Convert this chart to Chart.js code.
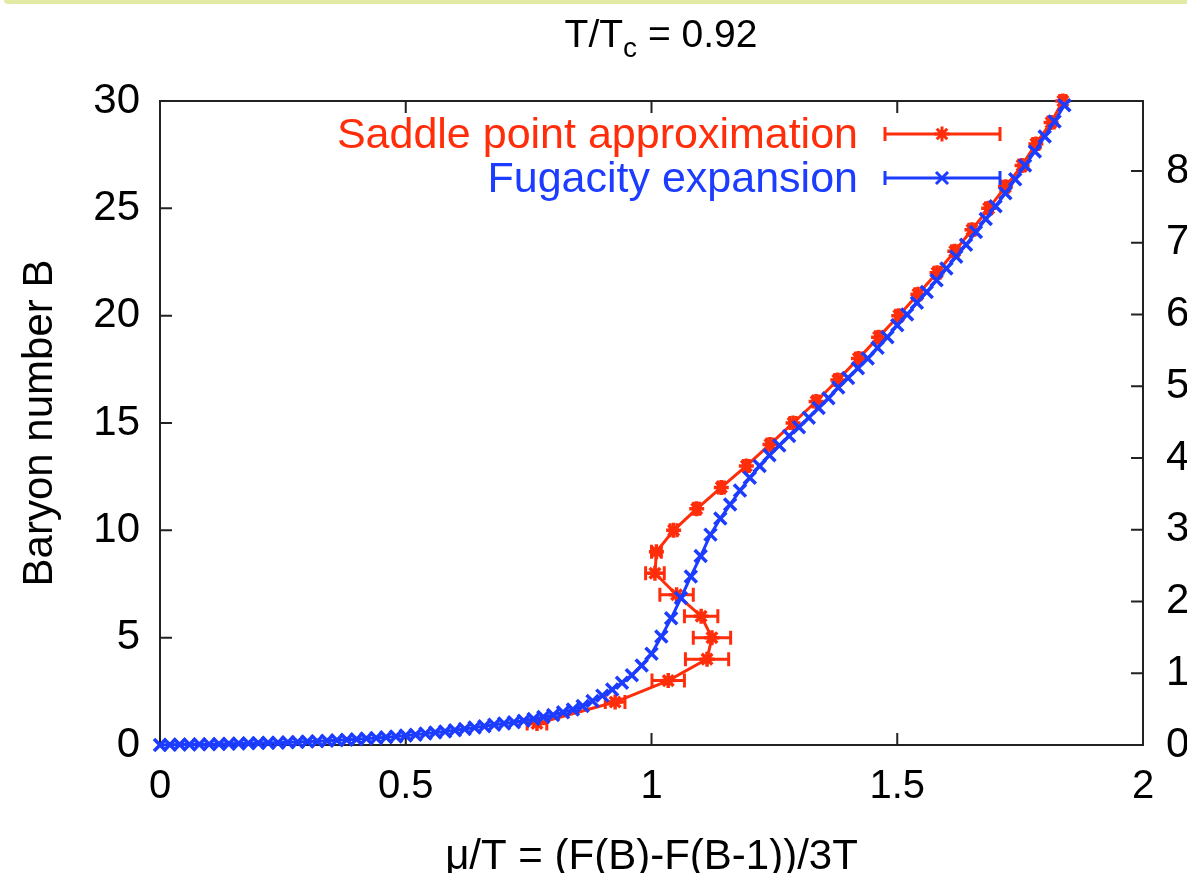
<!DOCTYPE html>
<html>
<head>
<meta charset="utf-8">
<script src="https://cdn.jsdelivr.net/npm/chart.js@4.4.0/dist/chart.umd.min.js"></script>
<style>
  html, body { margin: 0; padding: 0; background: #fff; overflow: hidden; }
  #wrap { position: relative; width: 1187px; height: 873px; overflow: hidden; }
  #topbar { position: absolute; top: 0; left: 4px; right: 0; height: 4px; background: #e3eaa4; border-bottom-left-radius: 6px; }
  #title { position: absolute; top: 11px; left: 461px; width: 400px; text-align: center;
           font: 39px "Liberation Sans", Arial, sans-serif; color: #000; line-height: 46px; }
  #title sub { font-size: 28px; vertical-align: -10px; line-height: 0; }
  #chart { position: absolute; top: 0; left: 0; }
</style>
</head>
<body>
<div id="wrap">
  <div id="topbar"></div>
  <canvas id="chart" width="1230" height="890"></canvas>
  <div id="title">T/T<sub>c</sub> = 0.92</div>
</div>
<script>
// saddle point approximation: baryon number B and mu/T with x error
const bSaddle = [1, 2, 3, 4, 5, 6, 7, 8, 9, 10,
                 11, 12, 13, 14, 15, 16, 17, 18, 19, 20,
                 21, 22, 23, 24, 25, 26, 27, 28, 29, 30];
const muSaddle = [0.767, 0.926, 1.034, 1.113, 1.123, 1.101, 1.051, 1.007, 1.010, 1.045,
                  1.092, 1.142, 1.193, 1.241, 1.288, 1.335, 1.379, 1.421, 1.462, 1.503,
                  1.542, 1.581, 1.617, 1.652, 1.686, 1.720, 1.754, 1.782, 1.813, 1.837];
const muSaddleErr = [0.02, 0.02, 0.033, 0.044, 0.038, 0.034, 0.034, 0.019, 0.01, 0.007,
                     0.006, 0.006, 0.006, 0.006, 0.006, 0.006, 0.006, 0.006, 0.006, 0.006,
                     0.006, 0.006, 0.006, 0.006, 0.006, 0.006, 0.006, 0.006, 0.006, 0.006];

// fugacity expansion: mu/T grid and B
const muFug = [0, 0.02, 0.04, 0.06, 0.08, 0.10, 0.12, 0.14, 0.16, 0.18,
               0.20, 0.22, 0.24, 0.26, 0.28, 0.30, 0.32, 0.34, 0.36, 0.38,
               0.40, 0.42, 0.44, 0.46, 0.48, 0.50, 0.52, 0.54, 0.56, 0.58,
               0.60, 0.62, 0.64, 0.66, 0.68, 0.70, 0.72, 0.74, 0.76, 0.78,
               0.80, 0.82, 0.84, 0.86, 0.88, 0.90, 0.92, 0.94, 0.96, 0.98,
               1.00, 1.02, 1.04, 1.06, 1.08, 1.10, 1.12, 1.14, 1.16, 1.18,
               1.20, 1.22, 1.24, 1.26, 1.28, 1.30, 1.32, 1.34, 1.36, 1.38,
               1.40, 1.42, 1.44, 1.46, 1.48, 1.50, 1.52, 1.54, 1.56, 1.58,
               1.60, 1.62, 1.64, 1.66, 1.68, 1.70, 1.72, 1.74, 1.76, 1.78,
               1.80, 1.82, 1.84];
const bFug = [0.00, 0.01, 0.02, 0.02, 0.03, 0.04, 0.05, 0.06, 0.07, 0.08,
              0.09, 0.10, 0.11, 0.13, 0.14, 0.16, 0.18, 0.20, 0.22, 0.24,
              0.27, 0.30, 0.33, 0.36, 0.40, 0.44, 0.48, 0.53, 0.58, 0.63,
              0.69, 0.75, 0.81, 0.87, 0.94, 1.00, 1.06, 1.13, 1.21, 1.30,
              1.40, 1.52, 1.65, 1.82, 2.05, 2.30, 2.58, 2.90, 3.25, 3.70,
              4.25, 5.05, 5.90, 6.85, 7.85, 8.80, 9.80, 10.55, 11.20, 11.85,
              12.45, 13.00, 13.50, 13.95, 14.40, 14.80, 15.25, 15.70, 16.15, 16.65,
              17.10, 17.55, 18.00, 18.50, 19.00, 19.55, 20.05, 20.60, 21.10, 21.65,
              22.20, 22.75, 23.30, 23.90, 24.50, 25.10, 25.70, 26.35, 27.00, 27.65,
              28.35, 29.05, 29.80];

const xTitle = "\u03bc/T = (F(B)-F(B-1))/3T";
const yTitle = "Baryon number B";
const RED = "#ff2d0a";
const BLUE = "#1c3cff";
const FONT = '"Liberation Sans", Arial, sans-serif';

const saddlePoints = bSaddle.map((b, i) => ({ x: muSaddle[i], y: b }));
const fugPoints = muFug.map((m, i) => ({ x: m, y: bFug[i] }));

// frame, inner ticks and x error bars (drawn under the markers)
const framePlugin = {
  id: "frame",
  beforeDatasetsDraw(chart) {
    const { ctx, chartArea: a, scales } = chart;
    ctx.save();
    ctx.strokeStyle = "#222";
    ctx.lineWidth = 2;
    ctx.strokeRect(a.left, a.top, a.right - a.left, a.bottom - a.top);
    ctx.beginPath();
    scales.x.ticks.forEach(t => {
      const px = scales.x.getPixelForValue(t.value);
      ctx.moveTo(px, a.bottom); ctx.lineTo(px, a.bottom - 12);
      ctx.moveTo(px, a.top); ctx.lineTo(px, a.top + 12);
    });
    scales.y.ticks.forEach(t => {
      const py = scales.y.getPixelForValue(t.value);
      ctx.moveTo(a.left, py); ctx.lineTo(a.left + 12, py);
    });
    scales.y1.ticks.forEach(t => {
      const py = scales.y1.getPixelForValue(t.value);
      ctx.moveTo(a.right, py); ctx.lineTo(a.right - 12, py);
    });
    ctx.stroke();

    // error bars for the saddle point data
    ctx.strokeStyle = RED;
    ctx.lineWidth = 3;
    ctx.beginPath();
    muSaddle.forEach((m, i) => {
      const x1 = scales.x.getPixelForValue(m - muSaddleErr[i]);
      const x2 = scales.x.getPixelForValue(m + muSaddleErr[i]);
      const y = scales.y.getPixelForValue(bSaddle[i]);
      ctx.moveTo(x1, y); ctx.lineTo(x2, y);
      ctx.moveTo(x1, y - 7); ctx.lineTo(x1, y + 7);
      ctx.moveTo(x2, y - 7); ctx.lineTo(x2, y + 7);
    });
    ctx.stroke();
    ctx.restore();
  },
  afterDatasetsDraw(chart) {
    // gnuplot style key: text on the left, sample with caps on the right
    const { ctx } = chart;
    const rows = [
      { ds: chart.data.datasets[1], y: 134 },
      { ds: chart.data.datasets[0], y: 178 }
    ];
    ctx.save();
    rows.forEach(r => {
      const c = r.ds.borderColor;
      ctx.font = "43px " + FONT;
      ctx.textAlign = "right";
      ctx.textBaseline = "middle";
      ctx.fillStyle = c;
      ctx.fillText(r.ds.label, 858, r.y + 2);
      ctx.strokeStyle = c;
      ctx.lineWidth = 3;
      ctx.beginPath();
      ctx.moveTo(885, r.y); ctx.lineTo(1000, r.y);
      ctx.moveTo(885, r.y - 7); ctx.lineTo(885, r.y + 7);
      ctx.moveTo(1000, r.y - 7); ctx.lineTo(1000, r.y + 7);
      ctx.stroke();
      Chart.helpers.drawPoint(ctx, {
        pointStyle: r.ds.pointStyle, radius: r.ds.pointRadius,
        borderWidth: r.ds.pointBorderWidth, rotation: 0
      }, 942, r.y);
    });
    ctx.restore();
  }
};

const tickFont = { family: FONT, size: 40 };
const plainNumber = v => String(v);

new Chart(document.getElementById("chart"), {
  type: "scatter",
  data: {
    datasets: [
      {
        label: "Fugacity expansion",
        data: fugPoints,
        showLine: true,
        borderColor: BLUE,
        backgroundColor: BLUE,
        borderWidth: 3,
        pointStyle: "crossRot",
        pointRadius: 8.5,
        pointBorderWidth: 3.5,
        pointBorderColor: BLUE,
        clip: false,
        order: 1
      },
      {
        label: "Saddle point approximation",
        data: saddlePoints,
        showLine: true,
        borderColor: RED,
        backgroundColor: RED,
        borderWidth: 3,
        pointStyle: "star",
        pointRadius: 7.5,
        pointBorderWidth: 3.5,
        pointBorderColor: RED,
        clip: false,
        order: 2
      }
    ]
  },
  options: {
    responsive: false,
    animation: false,
    events: [],
    layout: { padding: { top: 101, left: 0, right: 0, bottom: 0 } },
    plugins: { legend: { display: false }, tooltip: { enabled: false } },
    scales: {
      x: {
        type: "linear",
        min: 0, max: 2,
        afterFit: s => { s.height = 145; },
        grid: { display: false, drawTicks: false },
        border: { display: false },
        ticks: { stepSize: 0.5, color: "#000", font: tickFont, padding: 18, callback: plainNumber },
        title: { display: true, text: xTitle, color: "#000",
                 font: { family: FONT, size: 42 }, padding: { top: 0, bottom: 7 } }
      },
      y: {
        type: "linear",
        position: "left",
        min: 0, max: 30,
        afterFit: s => { s.width = 160; },
        grid: { display: false, drawTicks: false },
        border: { display: false },
        ticks: { stepSize: 5, color: "#000", font: { family: FONT, size: 42 }, padding: 20, callback: plainNumber },
        title: { display: true, text: yTitle, color: "#000",
                 font: { family: FONT, size: 42 }, padding: { top: 15, bottom: 0 } }
      },
      y1: {
        type: "linear",
        position: "right",
        min: 0, max: 8.976,
        afterFit: s => { s.width = 87; },
        grid: { display: false, drawTicks: false },
        border: { display: false },
        ticks: { stepSize: 1, includeBounds: false, color: "#000", font: { family: FONT, size: 42 }, padding: 23, callback: plainNumber }
      }
    }
  },
  plugins: [framePlugin]
});
</script>
</body>
</html>
